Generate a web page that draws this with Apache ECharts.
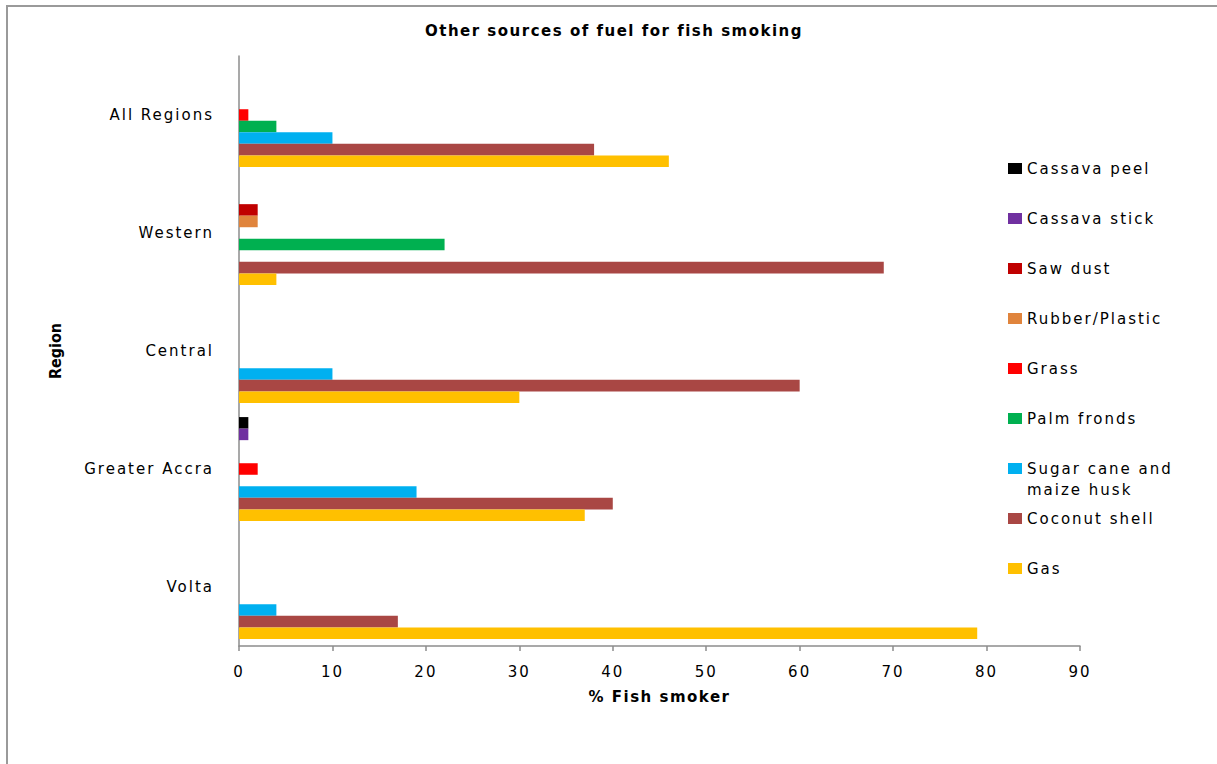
<!DOCTYPE html>
<html>
<head>
<meta charset="utf-8">
<script src="https://cdn.jsdelivr.net/npm/echarts@6/dist/echarts.min.js"></script>
<style>
  html, body { margin: 0; padding: 0; background: #fff; }
  #chart { width: 1217px; height: 764px; }
  /* widen the regular text a little; the condensed axis name keeps normal spacing */
  #chart svg text { letter-spacing: 2px; }
  #chart svg text[style*="bold"], #chart svg text[font-weight="bold"] { letter-spacing: 1.5px; }
  #chart svg text[style*="Condensed"], #chart svg text[font-family*="Condensed"] { letter-spacing: 0; }
</style>
</head>
<body>
<div id="chart"></div>
<script>
// Regions, listed bottom to top along the category axis
const regions = ['Volta', 'Greater Accra', 'Central', 'Western', 'All Regions'];

// % of fish smokers using each fuel, in the order of `regions`
const cassavaPeel   = [0, 1, 0, 0, 0];
const cassavaStick  = [0, 1, 0, 0, 0];
const sawDust       = [0, 0, 0, 2, 0];
const rubberPlastic = [0, 0, 0, 2, 0];
const grass         = [0, 2, 0, 0, 1];
const palmFronds    = [0, 0, 0, 22, 4];
const sugarCane     = [4, 19, 10, 0, 10];
const coconutShell  = [17, 40, 60, 69, 38];
const gas           = [79, 37, 30, 4, 46];

const xTicks = [0, 10, 20, 30, 40, 50, 60, 70, 80, 90];

const fuels = [
  { name: 'Cassava peel', data: cassavaPeel, color: '#000000' },
  { name: 'Cassava stick', data: cassavaStick, color: '#7030A0' },
  { name: 'Saw dust', data: sawDust, color: '#C00000' },
  { name: 'Rubber/Plastic', data: rubberPlastic, color: '#E0843C' },
  { name: 'Grass', data: grass, color: '#FF0000' },
  { name: 'Palm fronds', data: palmFronds, color: '#00B050' },
  { name: 'Sugar cane and maize husk', data: sugarCane, color: '#00B0F0' },
  { name: 'Coconut shell', data: coconutShell, color: '#A94744' },
  { name: 'Gas', data: gas, color: '#FFC000' }
];

const FONT = 'DejaVu Sans';
const LEGEND_TOP = 156;
const LEGEND_STEP = 50;
const chart = echarts.init(document.getElementById('chart'), null, { renderer: 'svg' });

// one legend block per fuel so every entry sits on its own fixed row;
// the long name wraps, its second line is set just below the first
const legends = fuels.map((f, i) => ({
  orient: 'vertical',
  left: 1003,
  top: LEGEND_TOP + i * LEGEND_STEP,
  itemWidth: 14,
  itemHeight: 11,
  icon: 'rect',
  selectedMode: false,
  formatter: n => n === 'Sugar cane and maize husk' ? 'Sugar cane and' : n,
  textStyle: { fontFamily: FONT, fontSize: 15, color: '#000', padding: [0, 0, 0, 0] },
  data: [f.name]
}));
const wrapIndex = fuels.findIndex(f => f.name === 'Sugar cane and maize husk');

chart.setOption({
  animation: false,
  backgroundColor: '#fff',
  title: {
    text: 'Other sources of fuel for fish smoking',
    left: 609,
    textAlign: 'center',
    top: 18,
    textStyle: { fontFamily: FONT, fontSize: 15, fontWeight: 'bold', color: '#000' }
  },
  legend: legends,
  grid: { left: 239, right: 137, top: 56, bottom: 118, containLabel: false },
  xAxis: {
    type: 'value',
    min: xTicks[0],
    max: xTicks[xTicks.length - 1],
    interval: 10,
    name: '% Fish smoker',
    nameLocation: 'middle',
    nameGap: 43,
    nameTextStyle: { fontFamily: FONT, fontSize: 15, fontWeight: 'bold', color: '#000' },
    axisLine: { show: true, lineStyle: { color: '#8c8c8c', width: 1.5 } },
    axisTick: { show: true, length: 5, lineStyle: { color: '#8c8c8c', width: 1.5 } },
    axisLabel: { fontFamily: FONT, fontSize: 15, color: '#000', margin: 18 },
    splitLine: { show: false }
  },
  yAxis: {
    type: 'category',
    data: regions,
    name: 'Region',
    nameLocation: 'middle',
    nameGap: 176,
    nameRotate: 90,
    nameTextStyle: { fontFamily: 'DejaVu Sans Condensed, Liberation Sans', fontSize: 16, fontWeight: 'bold', color: '#000' },
    axisLine: { show: true, lineStyle: { color: '#8c8c8c', width: 1.5 } },
    axisTick: { show: false },
    axisLabel: { fontFamily: FONT, fontSize: 15, color: '#000', margin: 25 },
    splitLine: { show: false }
  },
  graphic: [{
    type: 'rect',
    shape: { x: 7, y: 6, width: 1400, height: 1000 },
    style: { fill: 'none', stroke: '#9a9a9a', lineWidth: 2 },
    silent: true,
    z: 100
  }, {
    type: 'text',
    left: 1027,
    top: LEGEND_TOP + wrapIndex * LEGEND_STEP + 26,
    style: { text: 'maize husk', font: '15px "DejaVu Sans"', fill: '#000' },
    silent: true
  }],
  series: fuels.map(f => ({
    name: f.name,
    type: 'bar',
    data: f.data,
    barGap: '0%',
    barCategoryGap: '12%',
    itemStyle: { color: f.color },
    emphasis: { disabled: true }
  }))
});
</script>
</body>
</html>
